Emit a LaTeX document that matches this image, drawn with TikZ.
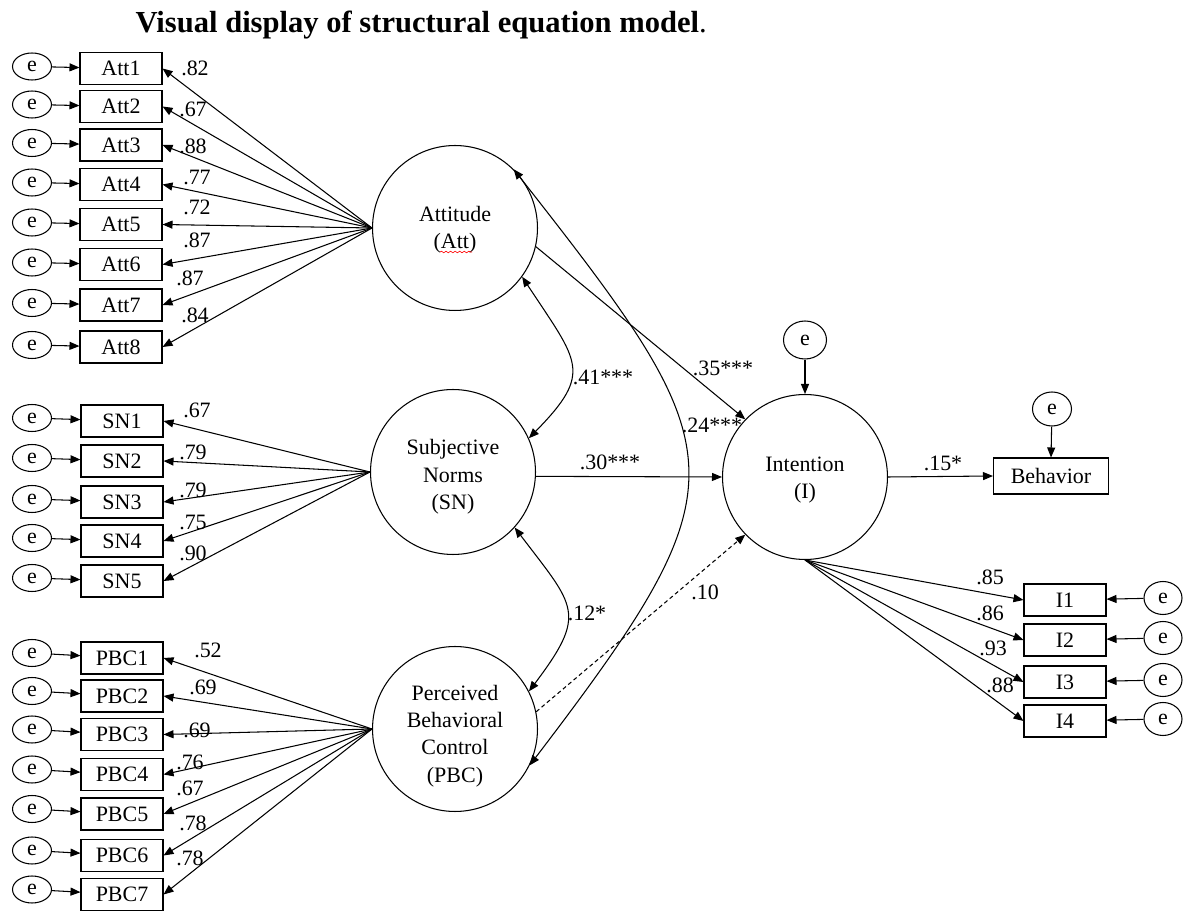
\documentclass[tikz,border=0pt]{standalone}
\usepackage{fontspec}
\setmainfont{Liberation Serif}
\usetikzlibrary{arrows.meta,shapes.geometric,decorations.pathmorphing}
\begin{document}
\begin{tikzpicture}[x=0.02cm,y=-0.02cm,line width=0.6pt,
  every node/.style={font=\fontsize{12.5}{14}\selectfont},
  lat/.style={draw, circle, minimum size=3.3cm, inner sep=0pt},
  lattext/.style={align=center, inner sep=0pt, font=\fontsize{12.5}{15.6}\selectfont},
  ind/.style={draw, rectangle, minimum width=1.64cm, minimum height=0.64cm, inner sep=0pt},
  err/.style={draw, ellipse, minimum width=0.78cm, minimum height=0.54cm, inner sep=0pt},
  erb/.style={draw, ellipse, minimum width=0.78cm, minimum height=0.68cm, inner sep=0pt},
  lab/.style={inner sep=0pt},
  conn/.style={-{Triangle[length=2mm,width=1.6mm]}},
  cov/.style={{Triangle[length=2mm,width=1.6mm]}-{Triangle[length=2mm,width=1.6mm]}},
]
\useasboundingbox (0,0) rectangle (1187,911);

\node[anchor=base west, inner sep=0pt, font=\fontsize{17.4}{20}\selectfont] (title) at (135,33) {\textbf{Visual display of structural equation model}.};

% latent variables
\node[lat] (Att) at (455,228) {};
\node[lattext] (AttT) at (455,230) {Attitude\\(Att)};
\node[lat] (SN) at (453,472) {};
\node[lattext] (SNT) at (453,477) {Subjective\\Norms\\(SN)};
\node[lat] (PBC) at (455,729) {};
\node[lattext] (PBCT) at (455,736) {Perceived\\Behavioral\\Control\\(PBC)};
\node[lat] (I) at (805,477) {};
\node[lattext] (IT) at (805,480) {Intention\\(I)};
\draw[red, line width=0.35pt, decorate, decoration={snake, amplitude=0.45pt, segment length=2.6pt}] (440,252) -- (472,252);

% Attitude indicators
\foreach \i/\y/\l/\lx/\ly in {1/68.5/.82/195/68, 2/106.5/.67/193/109, 3/145/.88/193/146, 4/184.5/.77/197/177, 5/224.5/.72/197/207, 6/264.5/.87/197/240, 7/305/.87/190/278, 8/347/.84/195/315}{
  \node[ind] (Att\i) at (121,\y) {Att\i};
  \node[err] (eAtt\i) at (32,\y-2) {e};
  \draw[conn] (eAtt\i) -- (Att\i);
  \draw[conn] (Att.west) -- (Att\i.east);
  \node[lab] (lAtt\i) at (\lx,\ly) {\l};
}

% Subjective norms indicators
\foreach \i/\y/\l/\lx/\ly in {1/421/.67/197/410, 2/461/.79/193/452, 3/502/.79/193/490, 4/541/.75/193/522, 5/581/.90/193/553}{
  \node[ind] (SN\i) at (122,\y) {SN\i};
  \node[err] (eSN\i) at (32,\y-3) {e};
  \draw[conn] (eSN\i) -- (SN\i);
  \draw[conn] (SN.west) -- (SN\i.east);
  \node[lab] (lSN\i) at (\lx,\ly) {\l};
}

% PBC indicators
\foreach \i/\y/\l/\lx/\ly in {1/658/.52/208/650, 2/696/.69/203/687, 3/734.5/.69/197/730, 4/774.5/.76/190/762, 5/814/.67/190/788, 6/855.5/.78/193/823, 7/894.5/.78/190/858}{
  \node[ind] (PBC\i) at (122,\y) {PBC\i};
  \node[err] (ePBC\i) at (32,\y-5) {e};
  \draw[conn] (ePBC\i) -- (PBC\i);
  \draw[conn] (PBC.west) -- (PBC\i.east);
  \node[lab] (lPBC\i) at (\lx,\ly) {\l};
}

% Intention indicators
\foreach \i/\y/\l/\lx/\ly in {1/600/.85/990/577, 2/640/.86/990/613, 3/682/.93/993/648, 4/721/.88/1000/685}{
  \node[ind] (I\i) at (1065,\y) {I\i};
  \node[erb, minimum height=0.66cm, minimum width=0.76cm] (eI\i) at (1163,\y-2) {e};
  \draw[conn] (eI\i) -- (I\i);
  \draw[conn] (I.south) -- (I\i.west);
  \node[lab] (lI\i) at (\lx,\ly) {\l};
}

% Behavior
\node[ind, minimum width=2.3cm, minimum height=0.72cm] (B) at (1051,476) {Behavior};
\node[erb] (eB) at (1052,409) {e};
\draw[conn] (eB) -- (B.north);
\node[erb, minimum width=0.86cm, minimum height=0.76cm] (eIn) at (805,340) {e};
\draw[conn] (eIn) -- (I.north);

% structural paths
\draw[conn] (Att.-13) -- (I.136);
\draw[conn] (SN.-3) -- (I.west);
\draw[conn, dashed, dash pattern=on 0.8mm off 0.6mm] (PBC.12) -- (I.224);
\draw[conn] (I.east) -- (B.west);

% covariances
\draw[cov] (Att.-36) .. controls (578,362) and (594,372) .. (SN.24);
\draw[cov] (SN.-42) .. controls (575,607) and (588,613) .. (PBC.27);
\draw[cov] (Att.45) .. controls (737,454) and (748,479) .. (PBC.-26);

% path labels
\node[lab] (l35) at (723,368) {.35***};
\node[lab] (l24) at (712,425) {.24***};
\node[lab] (l41) at (603,377) {.41***};
\node[lab] (l30) at (610,462) {.30***};
\node[lab] (l15) at (943,463) {.15*};
\node[lab] (l12) at (587,613) {.12*};
\node[lab] (l10) at (705,592) {.10};
\end{tikzpicture}
\end{document}
